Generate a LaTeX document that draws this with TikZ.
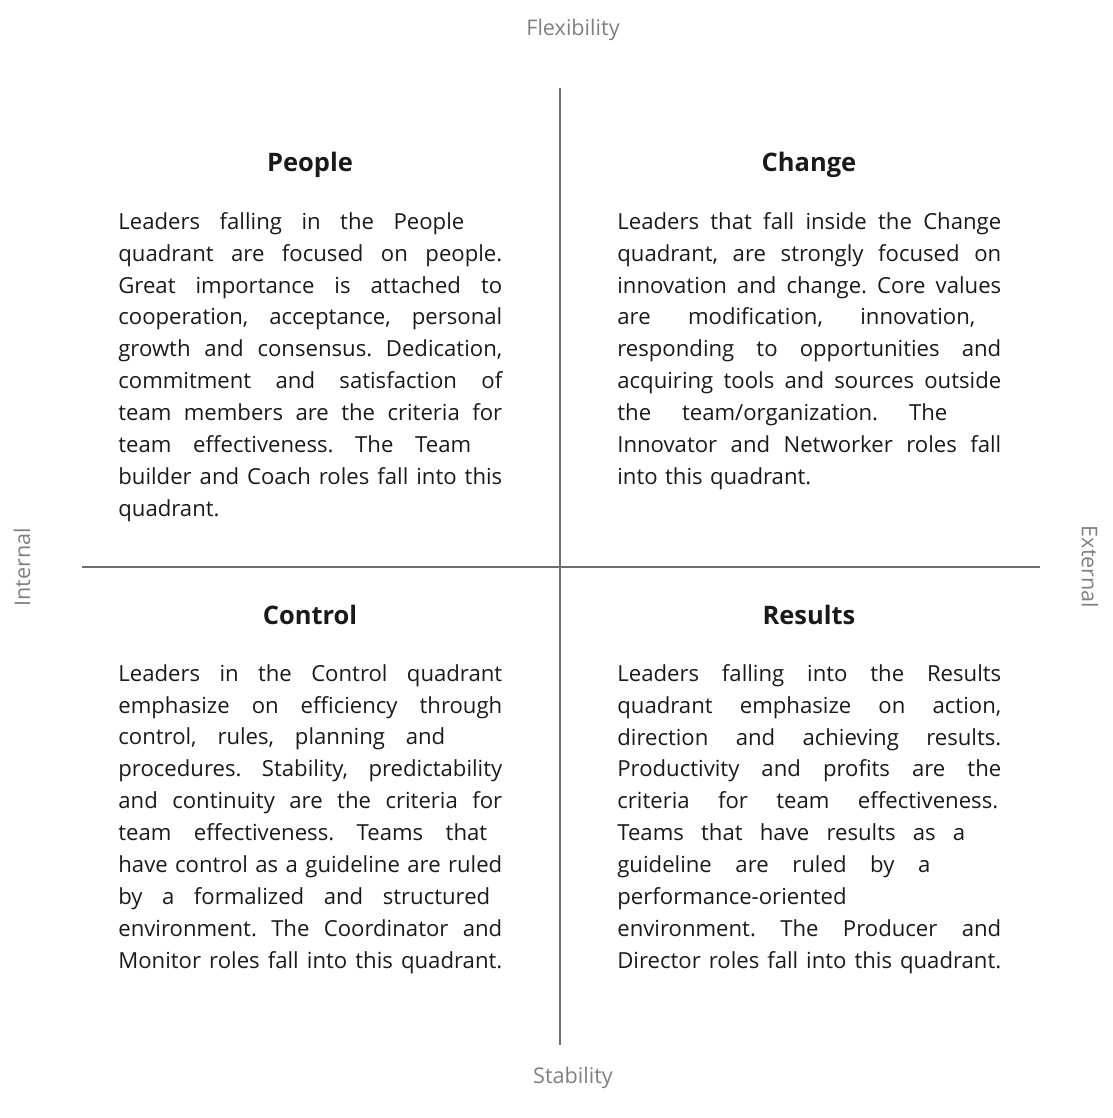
\documentclass[tikz,border=0pt]{standalone}
\usepackage{fontspec}
\setmainfont{Open Sans}
\definecolor{axisgray}{HTML}{6E6E6E}
\definecolor{labelgray}{HTML}{808080}
\definecolor{bodytext}{HTML}{1A1A1A}
% one justified line of a fixed width
\newcommand{\jl}[2]{\leavevmode\hbox to #1{\spaceskip=0pt\xspaceskip=0pt #2}}
\begin{document}
\frenchspacing
\begin{tikzpicture}[x=0.02cm, y=-0.02cm,
    axis/.style={line width=1.5pt, axisgray},
    axislabel/.style={text=labelgray, font=\fontsize{12.3}{14}\selectfont},
    heading/.style={anchor=base, text=bodytext, font=\fontsize{14.5}{17}\selectfont\bfseries},
    body/.style={anchor=north west, inner sep=0pt, text width=7.68cm, align=left,
      text=bodytext, font=\fontsize{12.6}{18.15}\selectfont\frenchspacing}]
    \useasboundingbox (0,0) rectangle (1112,1118);
    \coordinate (top) at (560,88);
    \coordinate (bottom) at (560,1045);
    \coordinate (left) at (82,567);
    \coordinate (right) at (1040,567);
    \draw[axis] (top) -- (bottom);
    \draw[axis] (left) -- (right);
    \node[axislabel] (flexibility) at (573,30) {Flexibility};
    \node[axislabel] (stability) at (573,1078) {Stability};
    \node[axislabel, rotate=90] (internal) at (22,567) {Internal};
    \node[axislabel, rotate=-90] (external) at (1090,567) {External};
    % upper quadrants
    \node[heading] (people) at (310,172) {People};
    \node[heading] (change) at (809,172) {Change};
    \node[body] (peopletext) at (118,212) {%
      \jl{6.92cm}{Leaders falling in the People}\\
      \jl{7.68cm}{quadrant are focused on people.}\\
      \jl{7.68cm}{Great importance is attached to}\\
      \jl{7.68cm}{cooperation, acceptance, personal}\\
      \jl{7.68cm}{growth and consensus. Dedication,}\\
      \jl{7.68cm}{commitment and satisfaction of}\\
      \jl{7.68cm}{team members are the criteria for}\\
      \jl{7.06cm}{team effectiveness. The Team}\\
      \jl{7.68cm}{builder and Coach roles fall into this}\\
      quadrant.};
    \node[body] (changetext) at (617,212) {%
      \jl{7.68cm}{Leaders that fall inside the Change}\\
      \jl{7.68cm}{quadrant, are strongly focused on}\\
      \jl{7.68cm}{innovation and change. Core values}\\
      \jl{7.16cm}{are modification, innovation,}\\
      \jl{7.68cm}{responding to opportunities and}\\
      \jl{7.68cm}{acquiring tools and sources outside}\\
      \jl{6.6cm}{the team/organization. The}\\
      \jl{7.68cm}{Innovator and Networker roles fall}\\
      into this quadrant.};
    % lower quadrants
    \node[heading] (control) at (310,624) {Control};
    \node[heading] (results) at (809,624) {Results};
    \node[body] (controltext) at (118,664) {%
      \jl{7.68cm}{Leaders in the Control quadrant}\\
      \jl{7.68cm}{emphasize on efficiency through}\\
      \jl{6.54cm}{control, rules, planning and}\\
      \jl{7.68cm}{procedures. Stability, predictability}\\
      \jl{7.68cm}{and continuity are the criteria for}\\
      \jl{7.38cm}{team effectiveness. Teams that}\\
      \jl{7.68cm}{have control as a guideline are ruled}\\
      \jl{7.44cm}{by a formalized and structured}\\
      \jl{7.68cm}{environment. The Coordinator and}\\
      \jl{7.68cm}{Monitor roles fall into this quadrant.}};
    \node[body] (resultstext) at (617,664) {%
      \jl{7.68cm}{Leaders falling into the Results}\\
      \jl{7.68cm}{quadrant emphasize on action,}\\
      \jl{7.68cm}{direction and achieving results.}\\
      \jl{7.68cm}{Productivity and profits are the}\\
      \jl{7.62cm}{criteria for team effectiveness.}\\
      \jl{6.96cm}{Teams that have results as a}\\
      \jl{6.26cm}{guideline are ruled by a}\\
      performance-oriented\\
      \jl{7.68cm}{environment. The Producer and}\\
      \jl{7.68cm}{Director roles fall into this quadrant.}};
\end{tikzpicture}
\end{document}
